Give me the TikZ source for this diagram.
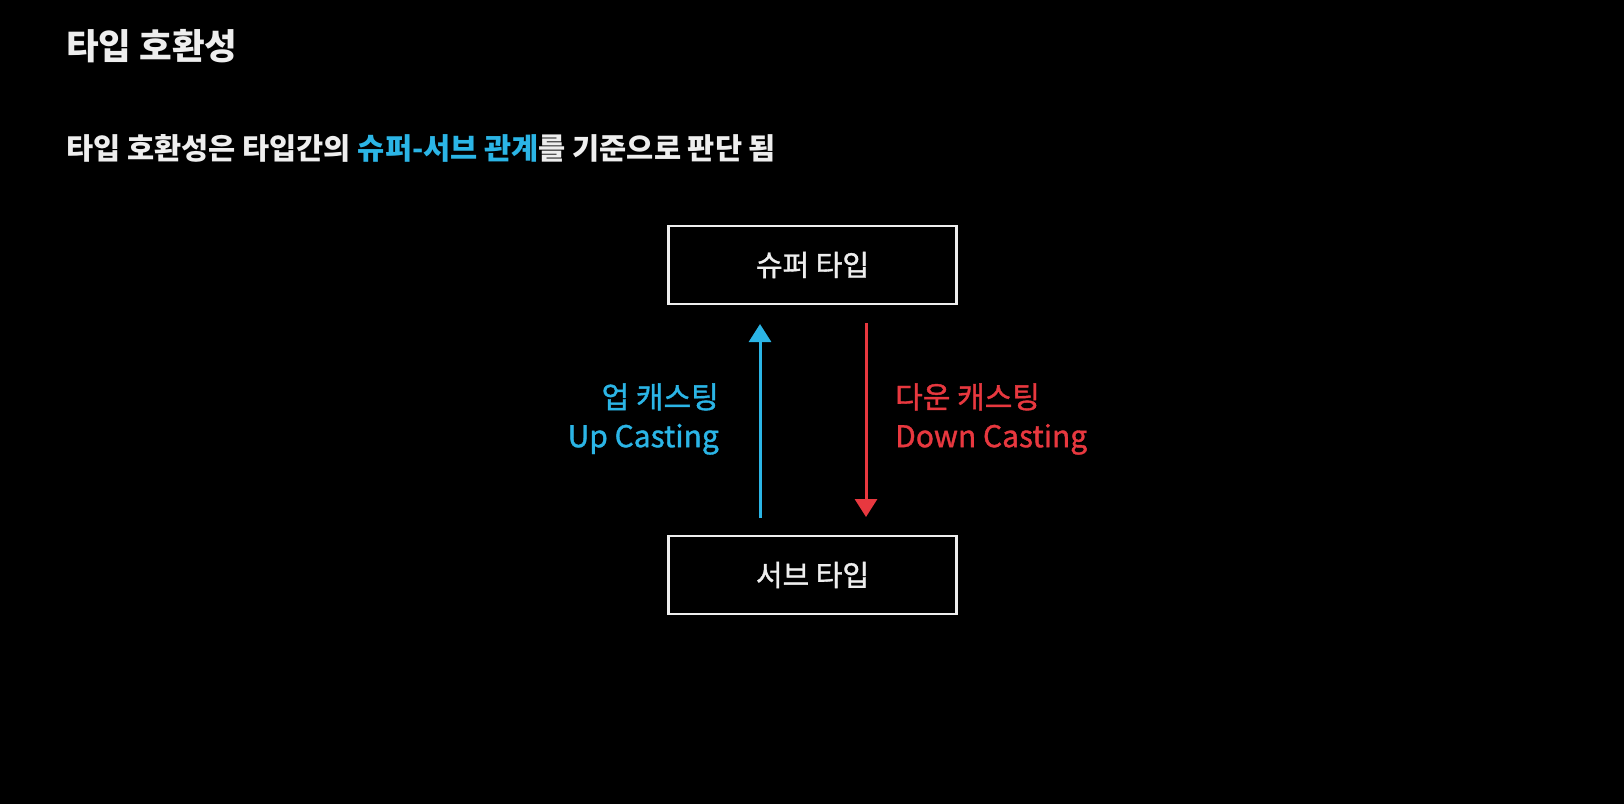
\documentclass[tikz,border=0pt]{standalone}
\usepackage{fontspec}
\setmainfont{Noto Sans CJK KR}
\newfontfamily\krmed[FakeBold=1.2]{Noto Sans CJK KR}
\usetikzlibrary{arrows.meta}
\definecolor{bg}{HTML}{000000}
\definecolor{fg}{HTML}{EEEEEE}
\definecolor{skyblue}{HTML}{2BB5E6}
\definecolor{redc}{HTML}{E8383F}
\tikzset{
  typebox/.style={draw=fg, line width=2.5pt, minimum width=288pt, minimum height=78pt, inner sep=0pt, text=fg, font=\krmed\fontsize{29}{32}\selectfont},
  castlabel/.style={inner sep=0pt, font=\krmed\fontsize{30}{39}\selectfont},
  castarrow/.style={line width=3pt, -{Triangle[width=22pt,length=18pt]}}
}
\begin{document}
\begin{tikzpicture}[x=1pt,y=-1pt]
\fill[bg] (0,0) rectangle (1624,804);
\useasboundingbox (0,0) rectangle (1624,804);
\node[anchor=west, inner sep=0pt, text=fg, font=\fontsize{35.5}{40}\selectfont\bfseries] (title) at (66,46) {타입 호환성};
\node[anchor=west, inner sep=0pt, text=fg, font=\fontsize{29.5}{34}\selectfont\bfseries] (sub) at (66,148) {타입 호환성은 타입간의 \textcolor{skyblue}{슈퍼-서브 관계}를 기준으로 판단 됨};
\node[typebox] (super) at (812.5,265) {슈퍼 타입};
\node[typebox] (subt) at (812.5,575) {서브 타입};
\coordinate (upS) at (760,518);
\coordinate (upE) at (760,324);
\coordinate (dnS) at (866,323);
\coordinate (dnE) at (866,517);
\draw[castarrow, skyblue] (upS) -- (upE);
\draw[castarrow, redc] (dnS) -- (dnE);
\node[castlabel, text=skyblue, align=right, anchor=east] (uplab) at (719,419) {업 캐스팅\\Up Casting};
\node[castlabel, text=redc, align=left, anchor=west] (dnlab) at (895,419) {다운 캐스팅\\Down Casting};
\end{tikzpicture}
\end{document}
